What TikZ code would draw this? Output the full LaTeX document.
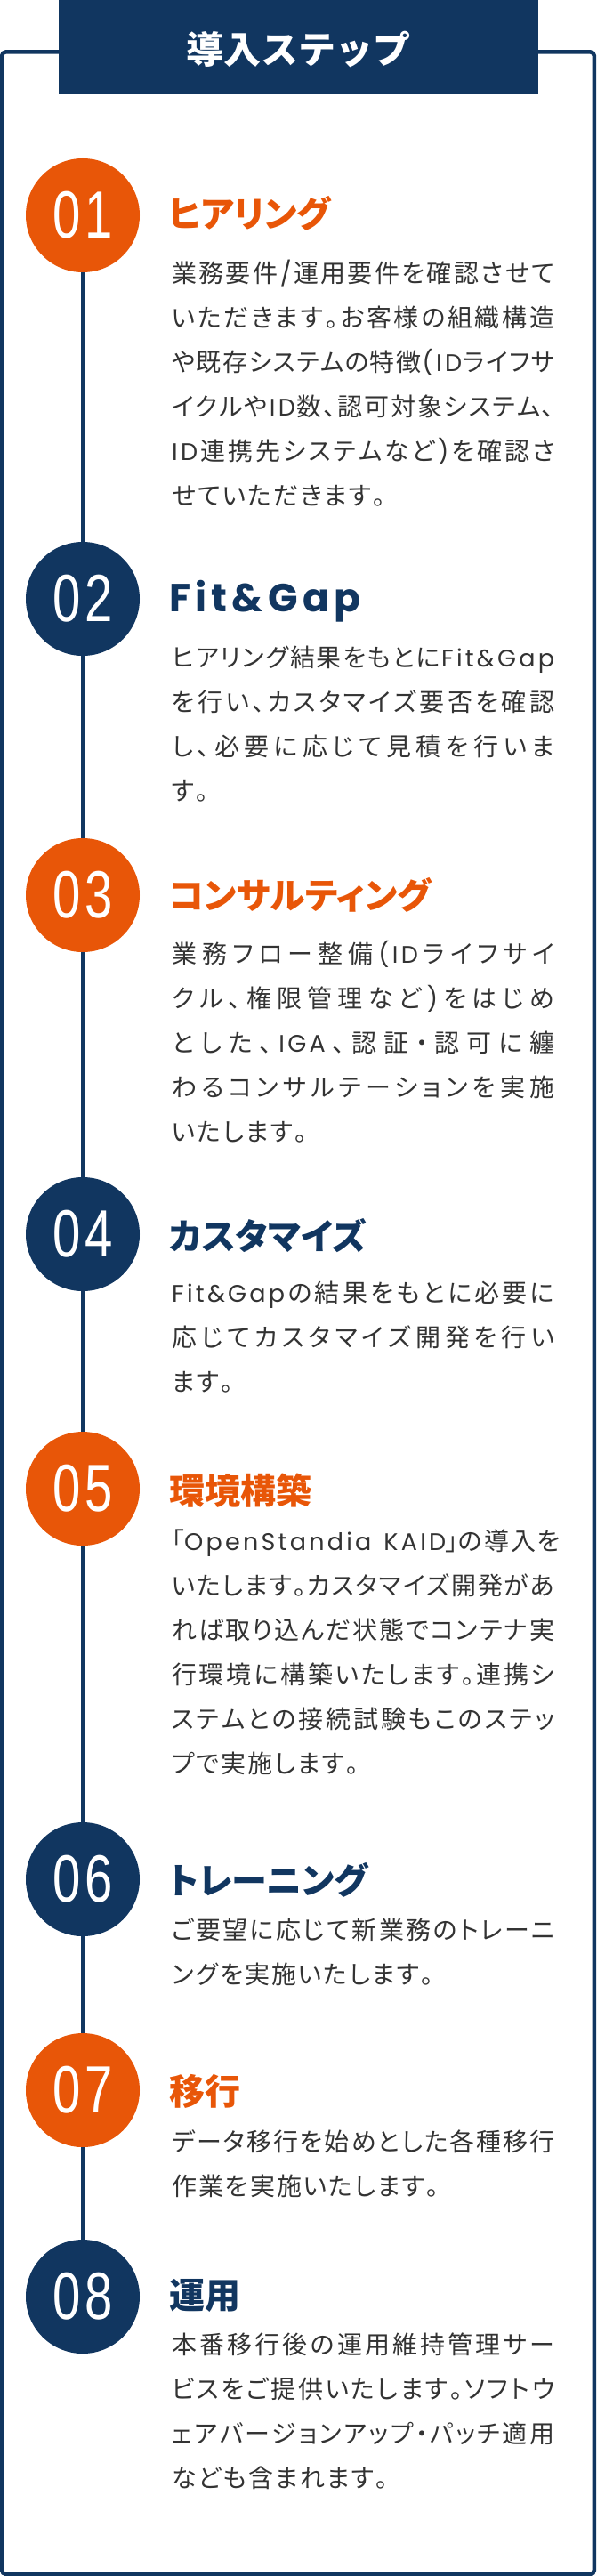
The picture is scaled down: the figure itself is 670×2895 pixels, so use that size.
\documentclass[tikz,border=0pt]{standalone}
\usepackage{fontspec}
\usepackage{graphicx}
\newfontfamily\jp{Noto Sans CJK JP}
\newfontfamily\jpp{Noto Sans CJK JP}[RawFeature=+palt]
\newfontfamily\popf{Poppins}[LetterSpace=12]
\newfontfamily\popt{Poppins}[LetterSpace=12]
\newfontfamily\numf{Liberation Sans}
\definecolor{navy}{RGB}{17,54,96}
\definecolor{orng}{RGB}{232,86,8}
\definecolor{bodyc}{RGB}{51,51,51}
\ExplSyntaxOn
\NewDocumentCommand \spreadrow { m m }
  {
    \bool_set_true:N \l_tmpa_bool
    \tl_map_inline:nn {#2}
      {
        \bool_if:NTF \l_tmpa_bool
          { \bool_set_false:N \l_tmpa_bool }
          { \hskip #1 \relax }
        { ##1 }
      }
  }
\ExplSyntaxOff
\newcommand\jrow[1]{\hbox to 430pt{\spreadrow{2pt plus 1fil minus 3pt}{#1}}}
\newcommand\nrow[1]{\hbox{\spreadrow{2pt}{#1}}}
\newcommand\latw{\popf\fontsize{27}{27}\selectfont}
\newcommand\dg[2]{\scalebox{0.75}[1]{#1\kern6pt #2}}
\tikzset{
  circ/.style={circle, minimum size=128pt, inner sep=0pt, text=white,
    font=\numf\fontsize{75}{75}\selectfont},
  ttl/.style={anchor=base west, inner sep=0pt,
    font=\jpp\bfseries\fontsize{40}{40}\selectfont},
  bodyl/.style={anchor=base west, inner sep=0pt, text=bodyc,
    font=\jpp\fontsize{28}{28}\selectfont},
  vline/.style={draw=navy, line width=5pt},
  frame/.style={draw=navy, line width=4.5pt, rounded corners=4pt},
}
\begin{document}
\begin{tikzpicture}[x=1pt,y=-1pt]
\useasboundingbox (0,0) rectangle (670,2895);
% frame and header
\draw[frame] (2.25,58.5) rectangle (667.75,2892.75);
\fill[navy] (66,0) rectangle (605,106);
\node[inner sep=0pt, text=white, font=\jp\bfseries\fontsize{42}{42}\selectfont] (hdr) at (335.5,56) {導入ステップ};
% circles
\node[circ, fill=orng] (c1) at (93,242) {\dg{0}{1}};
\node[circ, fill=navy] (c2) at (93,673) {\dg{0}{2}};
\node[circ, fill=orng] (c3) at (93,1006) {\dg{0}{3}};
\node[circ, fill=navy] (c4) at (93,1387) {\dg{0}{4}};
\node[circ, fill=orng] (c5) at (93,1673) {\dg{0}{5}};
\node[circ, fill=navy] (c6) at (93,2112) {\dg{0}{6}};
\node[circ, fill=orng] (c7) at (93,2349) {\dg{0}{7}};
\node[circ, fill=navy] (c8) at (93,2581) {\dg{0}{8}};
\draw[vline] (c1) -- (c2);
\draw[vline] (c2) -- (c3);
\draw[vline] (c3) -- (c4);
\draw[vline] (c4) -- (c5);
\draw[vline] (c5) -- (c6);
\draw[vline] (c6) -- (c7);
\draw[vline] (c7) -- (c8);
% titles
\node[ttl, text=orng] (h1) at (190,256) {ヒアリング};
\node[anchor=base west, inner sep=0pt, text=navy, font=\popt\bfseries\fontsize{44}{44}\selectfont] (h2) at (190,687) {Fit\&Gap};
\node[ttl, text=orng] (h3) at (190,1021) {コンサルティング};
\node[ttl, text=navy] (h4) at (190,1404) {カスタマイズ};
\node[ttl, text=orng] (h5) at (190,1690) {環境構築};
\node[ttl, text=navy] (h6) at (190,2128) {トレーニング};
\node[ttl, text=orng] (h7) at (190,2365) {移行};
\node[ttl, text=navy] (h8) at (190,2594) {運用};
% step 01
\node[bodyl] (b1a) at (193,317) {\jrow{業務要件{\latw /}運用要件を確認させて}};
\node[bodyl] (b1b) at (193,367) {\jrow{いただきます。お客様の組織構造}};
\node[bodyl] (b1c) at (193,417) {\jrow{や既存システムの特徴{\latw (ID}ライフサ}};
\node[bodyl] (b1d) at (193,467) {\jrow{イクルや{\latw ID}数、認可対象システム、}};
\node[bodyl] (b1e) at (193,517) {\jrow{{\latw ID}連携先システムなど{\latw )}を確認さ}};
\node[bodyl] (b1f) at (193,567) {\nrow{せていただきます。}};
% step 02
\node[bodyl] (b2a) at (193,749) {\jrow{ヒアリング結果をもとに{\latw Fit\&Gap}}};
\node[bodyl] (b2b) at (193,799) {\jrow{を行い、カスタマイズ要否を確認}};
\node[bodyl] (b2c) at (193,849) {\jrow{し、必要に応じて見積を行いま}};
\node[bodyl] (b2d) at (193,899) {\nrow{す。}};
% step 03
\node[bodyl] (b3a) at (193,1082) {\jrow{業務フロー整備{\latw (ID}ライフサイ}};
\node[bodyl] (b3b) at (193,1132) {\jrow{クル、権限管理など{\latw )}をはじめ}};
\node[bodyl] (b3c) at (193,1182) {\jrow{とした、{\latw IGA}、認証・認可に纏}};
\node[bodyl] (b3d) at (193,1232) {\jrow{わるコンサルテーションを実施}};
\node[bodyl] (b3e) at (193,1282) {\nrow{いたします。}};
% step 04
\node[bodyl] (b4a) at (193,1463) {\jrow{{\latw Fit\&Gap}の結果をもとに必要に}};
\node[bodyl] (b4b) at (193,1513) {\jrow{応じてカスタマイズ開発を行い}};
\node[bodyl] (b4c) at (193,1563) {\nrow{ます。}};
% step 05
\node[bodyl] (b5a) at (193,1742) {\hbox to 430pt{「{\latw OpenStandia}\hskip 14pt plus 1fil{\latw KAID}」\spreadrow{2pt plus 0.2fil}{の導入を}}};
\node[bodyl] (b5b) at (193,1792) {\jrow{いたします。カスタマイズ開発があ}};
\node[bodyl] (b5c) at (193,1842) {\jrow{れば取り込んだ状態でコンテナ実}};
\node[bodyl] (b5d) at (193,1892) {\jrow{行環境に構築いたします。連携シ}};
\node[bodyl] (b5e) at (193,1942) {\jrow{ステムとの接続試験もこのステッ}};
\node[bodyl] (b5f) at (193,1992) {\nrow{プで実施します。}};
% step 06
\node[bodyl] (b6a) at (193,2179) {\jrow{ご要望に応じて新業務のトレーニ}};
\node[bodyl] (b6b) at (193,2229) {\nrow{ングを実施いたします。}};
% step 07
\node[bodyl] (b7a) at (193,2417) {\jrow{データ移行を始めとした各種移行}};
\node[bodyl] (b7b) at (193,2467) {\nrow{作業を実施いたします。}};
% step 08
\node[bodyl] (b8a) at (193,2645) {\jrow{本番移行後の運用維持管理サー}};
\node[bodyl] (b8b) at (193,2695) {\jrow{ビスをご提供いたします。ソフトウ}};
\node[bodyl] (b8c) at (193,2745) {\jrow{ェアバージョンアップ・パッチ適用}};
\node[bodyl] (b8d) at (193,2795) {\nrow{なども含まれます。}};
\end{tikzpicture}
\end{document}
